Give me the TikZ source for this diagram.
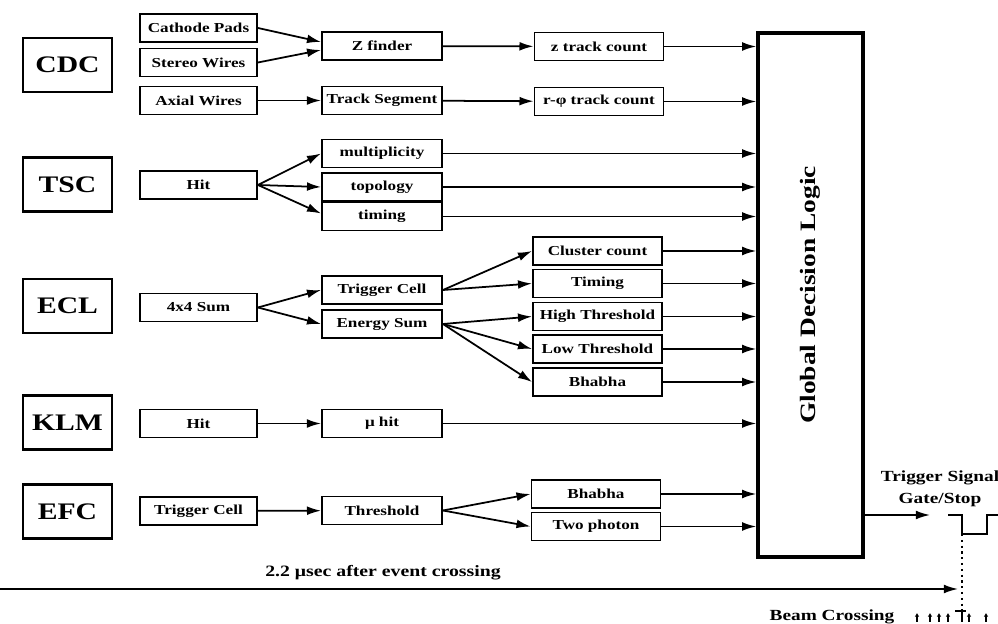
\documentclass[tikz,border=0pt]{standalone}
\usepackage{fontspec}
\setmainfont{Liberation Serif}[FakeStretch=1.25]
\usetikzlibrary{arrows.meta}
\begin{document}
\begin{tikzpicture}[x=0.02cm,y=-0.02cm,
 det/.style={draw,line width=1.4pt,minimum width=1.78cm,minimum height=1.08cm,inner sep=0pt,font=\fontsize{13.5}{14}\selectfont\bfseries},
 box/.style={draw,line width=1.1pt,minimum height=0.56cm,inner sep=0pt,font=\fontsize{7.8}{8}\selectfont\bfseries},
 c1/.style={box,minimum width=2.34cm},
 c2/.style={box,minimum width=2.4cm},
 c3/.style={box,minimum width=2.58cm},
 arr/.style={line width=1pt,-{Latex[length=8pt,width=5pt]}},
 lbl/.style={inner sep=0pt,font=\fontsize{8.8}{9}\selectfont\bfseries},
 tick/.style={line width=0.6pt,-{Latex[length=2pt,width=2.5pt]}}
]
\useasboundingbox (0,0) rectangle (998,624);
% detectors
\node[det] (cdc) at (67.5,65) {CDC};
\node[det] (tsc) at (67.5,184.5) {TSC};
\node[det] (ecl) at (67.5,306) {ECL};
\node[det] (klm) at (67.5,422.5) {KLM};
\node[det] (efc) at (67.5,511.5) {EFC};
% column 1
\node[c1] (cp) at (198.5,28) {Cathode Pads};
\node[c1] (sw) at (198.5,62.5) {Stereo Wires};
\node[c1] (aw) at (198.5,100.5) {Axial Wires};
\node[c1] (thit) at (198.5,185) {Hit};
\node[c1] (sum) at (198.5,307.5) {4x4 Sum};
\node[c1] (khit) at (198.5,423.5) {Hit};
\node[c1] (etc) at (198.5,511) {Trigger Cell};
% column 2
\node[c2] (zf) at (382,46) {Z finder};
\node[c2] (ts) at (382,100.5) {Track Segment};
\node[c2] (mult) at (382,153.5) {multiplicity};
\node[c2] (topo) at (382,187) {topology};
\node[c2] (tim1) at (382,216.5) {timing};
\node[c2] (tcell) at (382,290) {Trigger Cell};
\node[c2] (esum) at (382,324) {Energy Sum};
\node[c2] (mu) at (382,423.5) {μ hit};
\node[c2] (thr) at (382,510.5) {Threshold};
% column 3
\node[c3] (ztc) at (599,46.5) {z track count};
\node[c3] (rtc) at (599,101.5) {r-φ track count};
\node[c3] (cc) at (597.5,251) {Cluster count};
\node[c3] (tim2) at (597.5,283.5) {Timing};
\node[c3] (ht) at (597.5,316.5) {High Threshold};
\node[c3] (lt) at (597.5,349) {Low Threshold};
\node[c3] (bh) at (597.5,382) {Bhabha};
\node[c3] (bh2) at (596,494) {Bhabha};
\node[c3] (tp) at (596,526.5) {Two photon};
% global decision logic
\node[draw,line width=2pt,minimum width=2.1cm,minimum height=10.48cm,inner sep=0pt] (gdl) at (810.5,295) {};
\node[rotate=90,font=\fontsize{12.5}{13}\selectfont\bfseries] at (gdl.center) {Global Decision Logic};
% CDC connectors
\draw[arr] (cp.east) -- ([yshift=0.08cm]zf.west);
\draw[arr] (sw.east) -- ([yshift=-0.08cm]zf.west);
\draw[arr] (aw) -- (ts);
\draw[arr] (zf) -- (ztc);
\draw[arr] (ts) -- (rtc);
\draw[arr] (ztc.east) -- (ztc.east -| gdl.west);
\draw[arr] (rtc.east) -- (rtc.east -| gdl.west);
% TSC
\draw[arr] (thit.east) -- (mult.west);
\draw[arr] (thit.east) -- (topo.west);
\draw[arr] (thit.east) -- ([yshift=0.06cm]tim1.west);
\draw[arr] (mult.east) -- (mult.east -| gdl.west);
\draw[arr] (topo.east) -- (topo.east -| gdl.west);
\draw[arr] (tim1.east) -- (tim1.east -| gdl.west);
% ECL
\draw[arr] (sum.east) -- (tcell.west);
\draw[arr] (sum.east) -- (esum.west);
\draw[arr] (tcell.east) -- (cc.west);
\draw[arr] (tcell.east) -- (tim2.west);
\draw[arr] (esum.east) -- (ht.west);
\draw[arr] (esum.east) -- (lt.west);
\draw[arr] (esum.east) -- (bh.west);
\foreach \n in {cc,tim2,ht,lt,bh} \draw[arr] (\n.east) -- (\n.east -| gdl.west);
% KLM
\draw[arr] (khit) -- (mu);
\draw[arr] (mu.east) -- (mu.east -| gdl.west);
% EFC
\draw[arr] (etc) -- (thr);
\draw[arr] (thr.east) -- (bh2.west);
\draw[arr] (thr.east) -- (tp.west);
\draw[arr] (bh2.east) -- (bh2.east -| gdl.west);
\draw[arr] (tp.east) -- (tp.east -| gdl.west);
% trigger output
\coordinate (trig) at (930,515);
\draw[arr] (gdl.east |- trig) -- (trig);
\node[lbl] (tsig) at (940,478) {Trigger Signal};
\node[lbl] (gate) at (940,500) {Gate/Stop};
\coordinate (p0) at (948,515);
\coordinate (p1) at (962,515);
\coordinate (p2) at (962,534);
\coordinate (p3) at (987,534);
\coordinate (p4) at (987,515);
\coordinate (p5) at (998,515);
\draw[line width=1.2pt] (p0) -- (p1) -- (p2) -- (p3) -- (p4) -- (p5);
\coordinate (dend) at (962,610);
\draw[line width=1.3pt,dotted] (p2) -- (dend);
% time axis
\coordinate (tstart) at (0,589);
\coordinate (tend) at (958,589);
\draw[arr] (tstart) -- (tend);
\node[lbl,font=\fontsize{9}{10}\selectfont\bfseries] (tlab) at (383,573) {2.2 μsec after event crossing};
% beam crossing
\node[lbl] (bc) at (832,617) {Beam Crossing};
\foreach \x in {917,930,939,948,969,986} {\coordinate (t\x) at (\x,622); \draw[tick] (t\x) -- ++(0,-9);}
\draw[line width=0.8pt] (955,611) -- (966,611);
\draw[line width=0.8pt] (dend) -- (962,622);
\end{tikzpicture}
\end{document}
